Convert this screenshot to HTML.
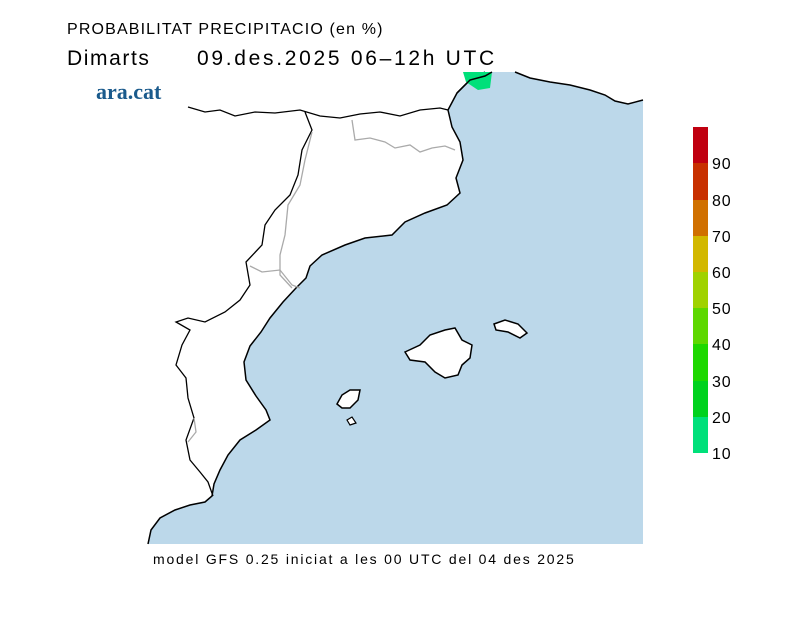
<!DOCTYPE html>
<html><head><meta charset="utf-8"><style>
body{margin:0;background:#fff;width:800px;height:617px;overflow:hidden}
svg{display:block}
</style></head><body>
<svg width="800" height="617" viewBox="0 0 800 617" xmlns="http://www.w3.org/2000/svg" font-family="Liberation Sans, sans-serif">
<text x="67" y="34" font-size="16" letter-spacing="1.15">PROBABILITAT PRECIPITACIO (en %)</text>
<text x="67" y="65" font-size="21" letter-spacing="1.6">Dimarts</text>
<text x="197" y="65" font-size="21" letter-spacing="2.7">09.des.2025 06–12h UTC</text>
<text x="96" y="99" font-size="22" font-weight="bold" font-family="Liberation Serif, serif" fill="#1a5a8c">ara.cat</text>
<!-- sea -->
<path d="M643,100 L628,104 L615,101 L605,95 L590,90 L570,85 L550,82 L530,78 L515,72 L485,72 L470,80 L457,93 L448,110 L452,127 L460,142 L463,160 L456,178 L460,193 L447,205 L425,213 L405,222 L392,235 L365,238 L345,245 L322,255 L310,266 L306,278 L296,288 L283,302 L270,318 L261,332 L250,346 L244,362 L246,380 L256,396 L266,410 L270,420 L256,430 L240,440 L228,455 L220,470 L214,484 L212,496 L205,502 L190,505 L175,510 L160,518 L151,530 L148,544 L643,544 Z" fill="#bcd8ea"/>
<path d="M643,100 L628,104 L615,101 L605,95 L590,90 L570,85 L550,82 L530,78 L515,72 M485,72 L470,80 L457,93 L448,110 L452,127 L460,142 L463,160 L456,178 L460,193 L447,205 L425,213 L405,222 L392,235 L365,238 L345,245 L322,255 L310,266 L306,278 L296,288 L283,302 L270,318 L261,332 L250,346 L244,362 L246,380 L256,396 L266,410 L270,420 L256,430 L240,440 L228,455 L220,470 L214,484 L212,496 L205,502 L190,505 L175,510 L160,518 L151,530 L148,544" fill="none" stroke="#000" stroke-width="1.5"/>
<path d="M463,72 L492,72 L490,88 L478,90 L466,82 Z" fill="#00e07a"/>
<path d="M492,72 L485,76 L470,80 L457,93" fill="none" stroke="#000" stroke-width="1.5"/>
<!-- islands -->
<path d="M405,352 L420,345 L430,335 L445,330 L455,328 L462,340 L472,345 L470,358 L462,365 L458,375 L445,378 L435,372 L425,362 L410,360 Z" fill="#fff" stroke="#000" stroke-width="1.5"/>
<path d="M494,324 L505,320 L518,324 L527,333 L520,338 L508,332 L496,330 Z" fill="#fff" stroke="#000" stroke-width="1.5"/>
<path d="M337,404 L342,395 L350,390 L360,390 L358,400 L350,408 L342,408 Z" fill="#fff" stroke="#000" stroke-width="1.5"/>
<path d="M347,420 L352,417 L356,423 L350,425 Z" fill="#fff" stroke="#000" stroke-width="1.2"/>
<!-- borders -->
<path d="M188,107 L205,112 L220,110 L235,116 L255,112 L275,113 L300,110 L320,116 L340,118 L360,114 L380,112 L400,116 L420,110 L440,108 L448,110" fill="none" stroke="#000" stroke-width="1.3"/>
<path d="M305,112 L312,130 L302,150 L298,175 L290,195 L275,210 L265,225 L262,245 L246,262 L250,285 L240,300 L225,312 L205,322 L188,318 L176,322 L190,330 L182,345 L176,365 L186,378 L188,398 L194,418 L186,440 L190,460 L200,472 L208,482 L213,496" fill="none" stroke="#000" stroke-width="1.3"/>
<path d="M352,120 L355,140 L370,138 L385,142 L395,148 L410,145 L420,152 L432,148 L445,146 L455,150" fill="none" stroke="#aaa" stroke-width="1.3"/>
<path d="M312,132 L305,160 L300,185 L288,205 L285,235 L280,255 L280,275 L292,288" fill="none" stroke="#aaa" stroke-width="1.3"/>
<path d="M250,266 L262,272 L280,270 L292,285 L300,288" fill="none" stroke="#aaa" stroke-width="1.3"/>
<path d="M194,418 L196,432 L188,442" fill="none" stroke="#aaa" stroke-width="1.3"/>
<!-- colorbar -->
<rect x="693" y="127" width="15" height="36" fill="#c00010"/>
<rect x="693" y="163" width="15" height="37" fill="#c83000"/>
<rect x="693" y="200" width="15" height="36" fill="#d07000"/>
<rect x="693" y="236" width="15" height="36" fill="#d2b800"/>
<rect x="693" y="272" width="15" height="36" fill="#a0d200"/>
<rect x="693" y="308" width="15" height="36" fill="#5ed800"/>
<rect x="693" y="344" width="15" height="37" fill="#1ed800"/>
<rect x="693" y="381" width="15" height="36" fill="#00d21e"/>
<rect x="693" y="417" width="15" height="36" fill="#00e07a"/>
<g font-size="16" letter-spacing="0.8">
<text x="712" y="169">90</text><text x="712" y="206">80</text><text x="712" y="242">70</text>
<text x="712" y="278">60</text><text x="712" y="314">50</text><text x="712" y="350">40</text>
<text x="712" y="387">30</text><text x="712" y="423">20</text><text x="712" y="459">10</text>
</g>
<text x="153" y="564" font-size="14" letter-spacing="1.8">model GFS 0.25 iniciat a les 00 UTC del 04 des 2025</text>
</svg>
</body></html>
